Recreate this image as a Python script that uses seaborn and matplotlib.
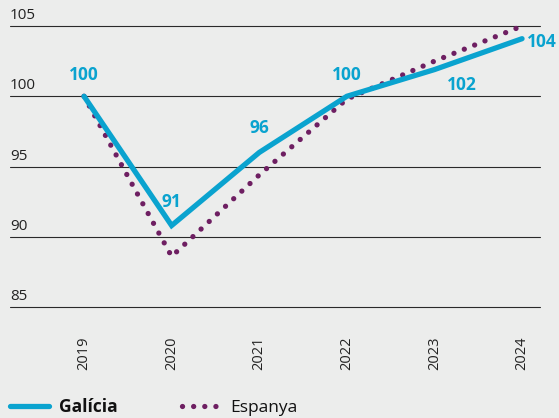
import matplotlib
matplotlib.use("Agg")
import matplotlib.pyplot as plt
import seaborn as sns
import pandas as pd

years = [2019, 2020, 2021, 2022, 2023, 2024]
galicia = [100, 90.8, 96.0, 100, 101.9, 104.1]
espanya = [100, 88.6, 94.4, 99.8, 102.5, 105.0]
label_text = ["100", "91", "96", "100", "102", "104"]
yticks = [85, 90, 95, 100, 105]
series_names = ["Galícia", "Espanya"]

BG = "#ecedec"
BLUE = "#0aa3cf"
PURPLE = "#6e1f62"

sns.set_theme(style="white")
plt.rcParams["font.family"] = ["Open Sans", "DejaVu Sans"]

df = pd.DataFrame({
    "year": years * 2,
    "value": galicia + espanya,
    "serie": [series_names[0]] * len(years) + [series_names[1]] * len(years),
})

fig = plt.figure(figsize=(5.59, 4.18), dpi=100, facecolor=BG)
W, H = 559, 418
ax = fig.add_axes([10 / W, (H - 307) / H, 530 / W, (307 - 12) / H])
ax.set_facecolor(BG)

DOTS = (0, (0.01, 2.1))
sns.lineplot(data=df[df.serie == series_names[1]], x="year", y="value", ax=ax,
             color=PURPLE, lw=3.8, legend=False)
sns.lineplot(data=df[df.serie == series_names[0]], x="year", y="value", ax=ax,
             color=BLUE, lw=3.8, legend=False)
lines = ax.get_lines()
l_esp, l_gal = lines[0], lines[1]
l_esp.set_linestyle(DOTS)
l_esp.set_dash_capstyle("round")
l_gal.set_solid_joinstyle("miter")
l_gal.set_solid_capstyle("round")
l_esp.set_zorder(2)
l_gal.set_zorder(3)

ax.set_xlim(2018.155, 2024.205)
ax.set_ylim(85, 106)
ax.set_yticks(yticks)
ax.set_yticklabels([])
ax.yaxis.grid(True, color="#2a2a2a", lw=0.8)
for gl in ax.yaxis.get_gridlines():
    gl.set_clip_on(False)
ax.set_axisbelow(True)
ax.tick_params(axis="y", length=0)
for s in ax.spines.values():
    s.set_visible(False)
for v in yticks:
    ax.text(0, v + 0.2, str(v), transform=ax.get_yaxis_transform(),
            ha="left", va="bottom", fontsize=11, color="#222222")

ax.set_xticks(years)
ax.set_xticklabels([str(y) for y in years], rotation=90, fontsize=10.5, color="#222222")
ax.tick_params(axis="x", length=0, pad=21)
ax.set_xlabel("")
ax.set_ylabel("")

# data labels
offsets = [(0, 0.9, "center", "bottom"), (0, 1.0, "center", "bottom"),
           (0, 1.1, "center", "bottom"), (0, 0.9, "center", "bottom"),
           (0.31, -0.45, "center", "top"), (0.06, -0.2, "left", "center")]
for x, y, t, (dx, dy, ha, va) in zip(years, galicia, label_text, offsets):
    ax.text(x + dx, y + dy, t, ha=ha, va=va, fontsize=12.5, fontweight="bold", color=BLUE)

from matplotlib.lines import Line2D
h1 = Line2D([], [], color=BLUE, lw=3.8)
h2 = Line2D([], [], color=PURPLE, lw=3.8, linestyle=DOTS, dash_capstyle="round")
leg = fig.legend([h1, h2], series_names, loc="lower left", bbox_to_anchor=(0.0, -0.021),
                 ncol=2, frameon=False, fontsize=12.5, handlelength=2.2, handletextpad=0.6,
                 columnspacing=3.7, borderaxespad=0.3, borderpad=0.3)
leg.get_texts()[0].set_fontweight("bold")
for t in leg.get_texts():
    t.set_color("#111111")

fig.savefig("out.png", dpi=100, facecolor=BG)
